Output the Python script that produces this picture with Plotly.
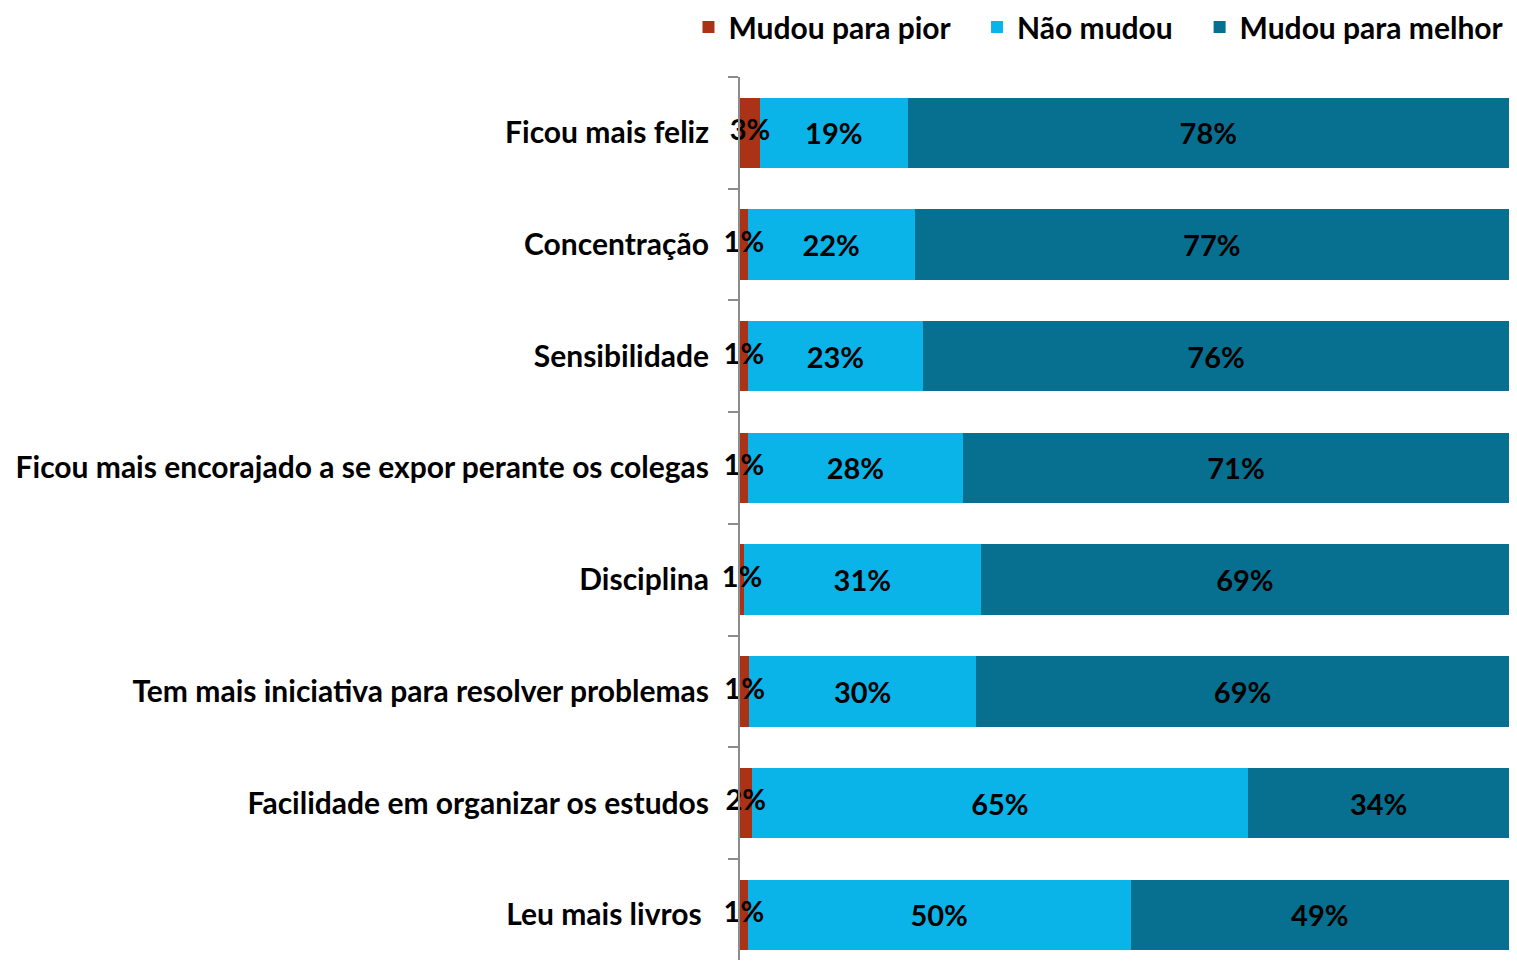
import plotly.graph_objects as go

# categories, top to bottom
categories = [
    "Ficou mais feliz",
    "Concentração",
    "Sensibilidade",
    "Ficou mais encorajado a se expor perante os colegas",
    "Disciplina",
    "Tem mais iniciativa para resolver problemas",
    "Facilidade em organizar os estudos",
    "Leu mais livros ",
]

# shares (%)
pior = [2.6, 1.0, 1.0, 1.0, 0.5, 1.2, 1.5, 1.0]
nao_mudou = [19.2, 21.7, 22.8, 28.0, 30.8, 29.5, 64.6, 49.8]
melhor = [78.2, 77.3, 76.2, 71.0, 68.7, 69.3, 33.9, 49.2]

# labels as printed on the chart
pior_labels = ["3%", "1%", "1%", "1%", "1%", "1%", "2%", "1%"]
nao_mudou_labels = ["19%", "22%", "23%", "28%", "31%", "30%", "65%", "50%"]
melhor_labels = ["78%", "77%", "76%", "71%", "69%", "69%", "34%", "49%"]

RED = "#A93217"
LIGHT = "#0AB4E8"
DARK = "#077090"
FONT = "Lato"
GAP = "\u00a0" * 3  # extra room between legend entries

label_font = dict(family=FONT, size=29, color="black", weight="bold")

fig = go.Figure()

fig.add_trace(
    go.Bar(
        y=categories,
        x=pior,
        name="Mudou para pior" + GAP,
        orientation="h",
        marker=dict(color=RED, line=dict(width=0)),
        hoverinfo="none",
    )
)
fig.add_trace(
    go.Bar(
        y=categories,
        x=nao_mudou,
        name="Não mudou" + GAP,
        orientation="h",
        marker=dict(color=LIGHT, line=dict(width=0)),
        text=nao_mudou_labels,
        textposition="inside",
        insidetextanchor="middle",
        textfont=label_font,
        hoverinfo="none",
    )
)
fig.add_trace(
    go.Bar(
        y=categories,
        x=melhor,
        name="Mudou para melhor",
        orientation="h",
        marker=dict(color=DARK, line=dict(width=0)),
        text=melhor_labels,
        textposition="inside",
        insidetextanchor="middle",
        textfont=label_font,
        hoverinfo="none",
    )
)

# small red segments: labels overflow the bar, so draw them as text
fig.add_trace(
    go.Scatter(
        y=categories,
        x=[v / 2 for v in pior],
        mode="text",
        text=pior_labels,
        textposition="middle center",
        textfont=label_font,
        showlegend=False,
        hoverinfo="none",
        cliponaxis=False,
    )
)

# page body has an 8px margin, so the figure is sized/offset for it
fig.update_layout(
    width=1501,
    height=952,
    barmode="stack",
    bargap=0.37,
    plot_bgcolor="white",
    paper_bgcolor="white",
    font=dict(family=FONT, size=29, color="black", weight="bold"),
    margin=dict(l=732, r=0, t=69, b=0, autoexpand=False),
    uniformtext=dict(minsize=10, mode="show"),
    legend=dict(
        orientation="h",
        x=-0.067,
        xanchor="left",
        y=1.086,
        yanchor="top",
        font=dict(family=FONT, size=30, color="black", weight="bold"),
        itemwidth=30,
        traceorder="normal",
    ),
    xaxis=dict(range=[0, 100], visible=False, fixedrange=True),
    yaxis=dict(
        type="category",
        categoryorder="array",
        categoryarray=categories,
        range=[7.405, -0.5],
        automargin=False,
        showline=True,
        linecolor="#8C8C8C",
        linewidth=2,
        ticks="outside",
        tickson="boundaries",
        ticklen=10,
        tickcolor="#8C8C8C",
        tickwidth=2,
        ticklabelstandoff=23,
        showgrid=False,
        zeroline=False,
        tickfont=dict(family=FONT, size=30, color="black", weight="bold"),
        fixedrange=True,
    ),
)

fig.write_html("out.html")
